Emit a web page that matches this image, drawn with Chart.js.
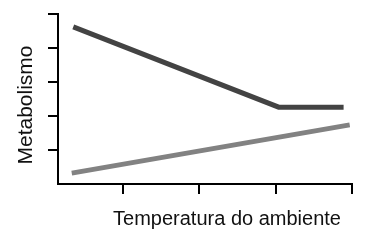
<!DOCTYPE html>
<html>
<head>
<meta charset="utf-8">
<script src="https://cdn.jsdelivr.net/npm/chart.js@4"></script>
<style>
  html, body { margin: 0; padding: 0; background: #fff; }
  #wrap { width: 378px; height: 246px; }
</style>
</head>
<body>
<div id="wrap"><canvas id="myChart" width="378" height="246"></canvas></div>
<script>
// values (arbitrary units, no labels on the axes)
const xTicks = [1, 2, 3, 4];
const yTicks = [1, 2, 3, 4, 5];
const darkX = [0.35, 3.04, 3.89];
const darkY = [4.62, 2.26, 2.26];
const lightX = [0.33, 3.97];
const lightY = [0.32, 1.74];
const xTitle = 'Temperatura do ambiente';
const yTitle = 'Metabolismo';

function toPoints(xs, ys) {
    return xs.map((x, i) => ({ x: x, y: ys[i] }));
}

// axis titles drawn by hand so they sit where the original has them
const titlePlugin = {
    id: 'axisTitles',
    afterDraw(chart) {
        const ctx = chart.ctx;
        ctx.save();
        ctx.fillStyle = '#111';
        ctx.textAlign = 'center';
        ctx.textBaseline = 'alphabetic';
        ctx.font = '20px "Liberation Sans", Arial, sans-serif';
        ctx.fillText(xTitle, 227, 225);
        ctx.font = '21px "Liberation Sans", Arial, sans-serif';
        ctx.translate(32, 105);
        ctx.rotate(-Math.PI / 2);
        ctx.fillText(yTitle, 0, 0);
        ctx.restore();
    }
};

const axisStyle = {
    border: { display: true, color: '#000', width: 2 },
    grid: {
        display: true,
        drawOnChartArea: false,
        drawTicks: true,
        tickLength: 10,
        color: '#000',
        lineWidth: 2
    },
    ticks: { display: false }
};

const ctx = document.getElementById('myChart').getContext('2d');
new Chart(ctx, {
    type: 'line',
    data: {
        datasets: [
            {
                data: toPoints(darkX, darkY),
                borderColor: '#434343',
                borderWidth: 5,
                pointRadius: 0,
                tension: 0,
                fill: false
            },
            {
                data: toPoints(lightX, lightY),
                borderColor: '#828282',
                borderWidth: 5,
                pointRadius: 0,
                tension: 0,
                fill: false
            }
        ]
    },
    options: {
        responsive: false,
        animation: false,
        events: [],
        layout: {
            padding: { left: 0, right: 26, top: 14, bottom: 0 }
        },
        plugins: {
            legend: { display: false },
            tooltip: { enabled: false }
        },
        scales: {
            x: Object.assign({}, axisStyle, {
                type: 'linear',
                min: 0.15,
                max: 4,
                afterBuildTicks: scale => { scale.ticks = xTicks.map(v => ({ value: v })); },
                afterFit: scale => { scale.height = 62; }
            }),
            y: Object.assign({}, axisStyle, {
                type: 'linear',
                min: 0,
                max: 5,
                afterBuildTicks: scale => { scale.ticks = yTicks.map(v => ({ value: v })); },
                afterFit: scale => { scale.width = 58; }
            })
        }
    },
    plugins: [titlePlugin]
});
</script>
</body>
</html>
